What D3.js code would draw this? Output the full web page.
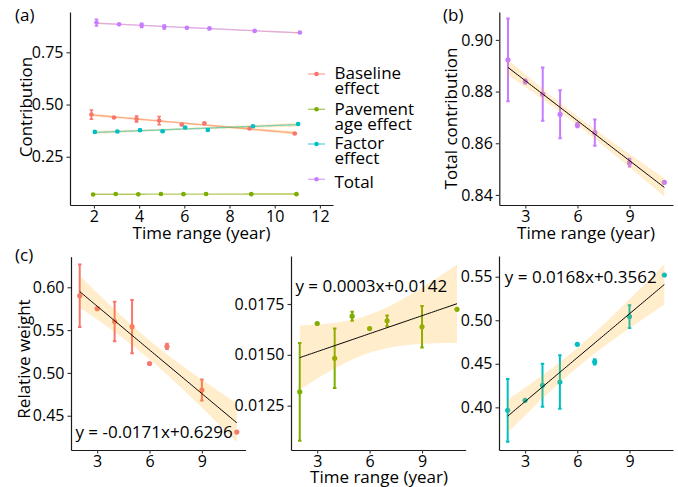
<!DOCTYPE html>
<html><head><meta charset="utf-8">
<script src="https://cdn.jsdelivr.net/npm/d3@7"></script>
<style>
body{margin:0;background:#fff}
svg{display:block}
text{font-family:"Open Sans",sans-serif;fill:#000}
</style>
</head><body>
<svg id="chart" width="678" height="487"></svg>
<script>
// ---------------- data ----------------
const years = [2, 3, 4, 5, 6, 7, 9, 11];
const seriesNames = [["Baseline", "effect"], ["Pavement", "age effect"], ["Factor", "effect"], ["Total"]];
const seriesColors = ["#F8766D", "#7CAE00", "#00BFC4", "#C77CFF"];

const baselineEffect    = [0.452, 0.438, 0.431, 0.423, 0.404, 0.410, 0.385, 0.361];
const baselineEffectErr = [0.022, 0.002, 0.014, 0.020, 0.002, 0.002, 0.002, 0.002];
const pavementEffect    = [0.069, 0.072, 0.070, 0.072, 0.071, 0.072, 0.071, 0.071];
const pavementEffectErr = [0.002, 0.002, 0.002, 0.002, 0.002, 0.002, 0.002, 0.002];
const factorEffect      = [0.369, 0.371, 0.377, 0.372, 0.390, 0.378, 0.396, 0.407];
const factorEffectErr   = [0.004, 0.002, 0.004, 0.004, 0.003, 0.003, 0.003, 0.002];
const totalContribution    = [0.8923, 0.8839, 0.8790, 0.8712, 0.8670, 0.8641, 0.8525, 0.8449];
const totalContributionErr = [0.0160, 0.0008, 0.0103, 0.0093, 0.0008, 0.0051, 0.0015, 0.0005];

const baselineWeight    = [0.590, 0.575, 0.560, 0.554, 0.511, 0.531, 0.480, 0.431];
const baselineWeightErr = [0.0365, 0, 0.023, 0.031, 0, 0.003, 0.0123, 0];
const pavementWeight    = [0.01318, 0.01654, 0.01483, 0.01690, 0.01629, 0.01667, 0.01638, 0.01724];
const pavementWeightErr = [0.0024, 0, 0.00146, 0.00022, 0, 0.00026, 0.00102, 0];
const factorWeight      = [0.3966, 0.4080, 0.4253, 0.4291, 0.4724, 0.4521, 0.5042, 0.5520];
const factorWeightErr   = [0.036, 0, 0.0247, 0.0307, 0, 0.003, 0.013, 0];

const ticksAx = [2, 4, 6, 8, 10, 12];
const ticksAy = [0.25, 0.50, 0.75];
const ticksBx = [3, 6, 9];
const ticksBy = [0.84, 0.86, 0.88, 0.90];
const ticksC1y = [0.45, 0.50, 0.55, 0.60];
const ticksC2y = [0.0125, 0.0150, 0.0175];
const ticksC3y = [0.40, 0.45, 0.50, 0.55];
const equations = ["y = -0.0171x+0.6296", "y = 0.0003x+0.0142", "y = 0.0168x+0.3562"];
const xTitle = "Time range (year)";

// ---------------- helpers ----------------
const svg = d3.select("#chart");
const RIBBON = "orange", RIBBON_OP = 0.2;
const T975_DF6 = 2.446912;

function lm(xs, ys) {
  const n = xs.length, mx = d3.mean(xs), my = d3.mean(ys);
  let sxx = 0, sxy = 0;
  xs.forEach((x, i) => { sxx += (x - mx) ** 2; sxy += (x - mx) * (ys[i] - my); });
  const b = sxy / sxx, a = my - b * mx;
  let ss = 0; xs.forEach((x, i) => { ss += (ys[i] - (a + b * x)) ** 2; });
  const s = Math.sqrt(ss / (n - 2));
  const x0 = d3.min(xs), x1 = d3.max(xs);
  const pts = d3.range(81).map(i => {
    const x = x0 + (x1 - x0) * i / 80, y = a + b * x;
    const se = s * Math.sqrt(1 / n + (x - mx) ** 2 / sxx);
    return {x, y, lo: y - T975_DF6 * se, hi: y + T975_DF6 * se};
  });
  return pts;
}

function panel(o) {
  const x = d3.scaleLinear().domain(o.xd).range(o.xr);
  const y = d3.scaleLinear().domain(o.yd).range(o.yr);
  const g = svg.append("g");
  const ax = g.append("g").attr("transform", `translate(0,${o.yr[0]})`)
    .call(d3.axisBottom(x).tickValues(o.xt).tickSizeInner(3.5).tickSizeOuter(0).tickPadding(2).tickFormat(d3.format("d")));
  const ay = g.append("g").attr("transform", `translate(${o.xr[0]},0)`)
    .call(d3.axisLeft(y).tickValues(o.yt).tickSizeInner(3.5).tickSizeOuter(0).tickPadding(3).tickFormat(d3.format(o.yf)));
  [ax, ay].forEach(a => {
    a.attr("font-family", null).attr("font-size", 16);
    a.select(".domain").attr("stroke", "#1a1a1a").attr("stroke-width", 1.2);
    a.selectAll(".tick line").attr("stroke", "#333").attr("stroke-width", 1.1);
    a.selectAll(".tick text").attr("fill", "#000");
  });
  const plot = svg.append("g");
  return {x, y, plot};
}

function errorBars(p, xs, ys, es, color, capHalf, width) {
  xs.forEach((xv, i) => {
    if (!es[i]) return;
    const cx = p.x(xv), t = p.y(ys[i] + es[i]), b = p.y(ys[i] - es[i]);
    const h = p.x(xv + capHalf) - cx;
    p.plot.append("path")
      .attr("d", `M${cx},${t}V${b}M${cx - h},${t}H${cx + h}M${cx - h},${b}H${cx + h}`)
      .attr("stroke", color).attr("stroke-width", width).attr("fill", "none");
  });
}
function points(p, xs, ys, color, r) {
  p.plot.selectAll(null).data(xs).enter().append("circle")
    .attr("cx", d => p.x(d)).attr("cy", (d, i) => p.y(ys[i])).attr("r", r).attr("fill", color);
}
function ribbon(p, fit) {
  p.plot.append("path").datum(fit)
    .attr("d", d3.area().x(d => p.x(d.x)).y0(d => p.y(d.lo)).y1(d => p.y(d.hi)))
    .attr("fill", RIBBON).attr("fill-opacity", RIBBON_OP);
}
function fitLine(p, fit, color, w, op) {
  p.plot.append("path").datum(fit)
    .attr("d", d3.line().x(d => p.x(d.x)).y(d => p.y(d.y)))
    .attr("stroke", color).attr("stroke-width", w).attr("stroke-opacity", op).attr("fill", "none");
}
function label(x, y, txt, opts = {}) {
  const t = svg.append("text").attr("x", x).attr("y", y).attr("font-size", opts.size || 17)
    .attr("text-anchor", opts.anchor || "start").text(txt);
  if (opts.rotate) t.attr("transform", `rotate(-90,${x},${y})`);
  return t;
}

// ---------------- panel (a) ----------------
const A = panel({xd: [0.94, 12.58], xr: [70, 333], yd: [0.019, 0.943], yr: [205, 12],
                 xt: ticksAx, yt: ticksAy, yf: ".2f"});
const aSeries = [
  [baselineEffect, baselineEffectErr],
  [pavementEffect, pavementEffectErr],
  [factorEffect, factorEffectErr],
  [totalContribution, totalContributionErr]
];
const dodge = [-0.1125, -0.0375, 0.0375, 0.1125];
aSeries.forEach(([vals], k) => {
  const xs = years.map(v => v + dodge[k]);
  const fit = lm(xs, vals);
  fitLine(A, fit, seriesColors[k], 1.4, 0.6);
  ribbon(A, fit);
});
aSeries.forEach(([vals, errs], k) => {
  const xs = years.map(v => v + dodge[k]);
  errorBars(A, xs, vals, errs, seriesColors[k], 0.08, 1.6);
  points(A, xs, vals, seriesColors[k], 2.3);
});
label(15, 21, "(a)");
label(32, 107, "Contribution", {anchor: "middle", rotate: true});
label(201.5, 239, xTitle, {anchor: "middle"});

// legend
const legY = [74, 109.3, 144, 179.3];
seriesNames.forEach((lines, k) => {
  svg.append("line").attr("x1", 308).attr("x2", 325).attr("y1", legY[k]).attr("y2", legY[k])
    .attr("stroke", seriesColors[k]).attr("stroke-width", 1.4).attr("stroke-opacity", 0.6);
  svg.append("circle").attr("cx", 316.5).attr("cy", legY[k]).attr("r", 2.3).attr("fill", seriesColors[k]);
  const t = svg.append("text").attr("x", 334.5).attr("font-size", 17);
  const base = lines.length === 1 ? legY[k] + 9 : legY[k] + 5.3;
  lines.forEach((ln, j) => t.append("tspan").attr("x", 334.5).attr("y", base + j * 15).text(ln));
});

// ---------------- panel (b) ----------------
const B = panel({xd: [1.5, 11.5], xr: [499.3, 673], yd: [0.8361, 0.9108], yr: [205, 12],
                 xt: ticksBx, yt: ticksBy, yf: ".2f"});
errorBars(B, years, totalContribution, totalContributionErr, seriesColors[3], 0.1, 2);
points(B, years, totalContribution, seriesColors[3], 2.6);
const fitB = lm(years, totalContribution);
ribbon(B, fitB);
fitLine(B, fitB, "#000", 1, 1);
label(443, 21, "(b)");
label(457, 118.5, "Total contribution", {anchor: "middle", rotate: true});
label(586, 239, xTitle, {anchor: "middle"});

// ---------------- panel (c) ----------------
const cDefs = [
  {vals: baselineWeight, errs: baselineWeightErr, color: seriesColors[0], xr: [71, 245.5], yd: [0.410, 0.6357], yr: [450, 256.7], yt: ticksC1y, yf: ".2f", eq: equations[0], eqx: 6.26, eqy: 0.4245},
  {vals: pavementWeight, errs: pavementWeightErr, color: seriesColors[1], xr: [291, 465.7], yd: [0.01032, 0.01986], yr: [450, 256], yt: ticksC2y, yf: ".4f", eq: equations[1], eqx: 6.1, eqy: 0.01811},
  {vals: factorWeight, errs: factorWeightErr, color: seriesColors[2], xr: [499, 673], yd: [0.351, 0.5738], yr: [450, 256], yt: ticksC3y, yf: ".2f", eq: equations[2], eqx: 6.2, eqy: 0.5427}
];
cDefs.forEach(c => {
  const P = panel({xd: [1.5, 11.5], xr: c.xr, yd: c.yd, yr: c.yr, xt: ticksBx, yt: c.yt, yf: c.yf});
  errorBars(P, years, c.vals, c.errs, c.color, 0.1, 2);
  points(P, years, c.vals, c.color, 2.6);
  const fit = lm(years, c.vals);
  ribbon(P, fit);
  fitLine(P, fit, "#000", 1, 1);
  label(P.x(c.eqx), P.y(c.eqy), c.eq, {anchor: "middle"});
});
label(15, 261, "(c)");
label(30, 359, "Relative weight", {anchor: "middle", rotate: true});
label(379, 483, xTitle, {anchor: "middle"});
</script>
</body></html>
